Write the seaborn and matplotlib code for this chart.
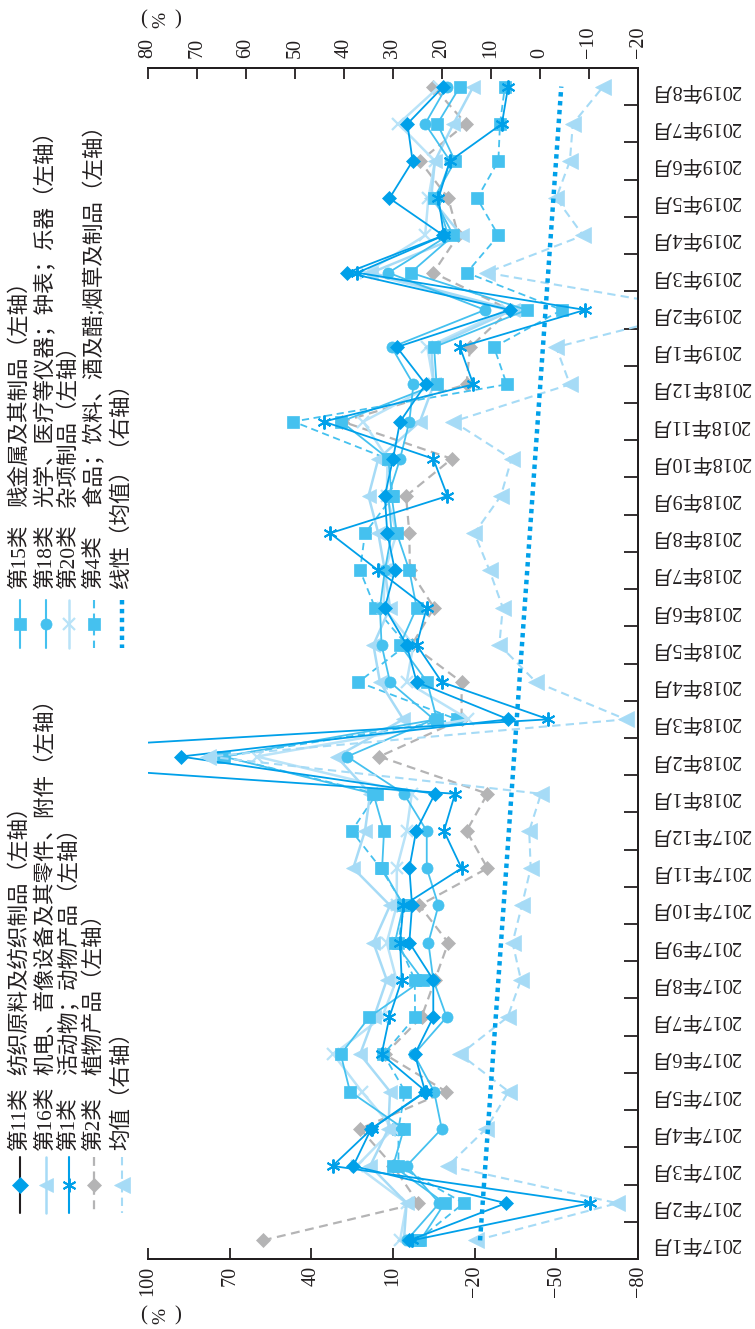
import numpy as np
import pandas as pd
import matplotlib
matplotlib.use("Agg")
import matplotlib.pyplot as plt
from matplotlib.lines import Line2D
import seaborn as sns

# ---- data -------------------------------------------------------------
months = [f"{y}年{m}月" for y in (2017, 2018, 2019) for m in range(1, 13)][:32]

# year-on-year growth by HS section (%), left axis
cls11 = [4, -31.5, 24.6, 18, -1.8, 2, -4.8, -4.8, 4, 3, 4, 1.5, -5.4, 88, -32.4, 1.3,
         5, 13, 9.3, 12.1, 13, 10, 7.4, -2, 8.6, -33, 26.8, -8.5, 11.3, 2.8, 4.7, -8.5]
cls16 = [6, 5, 18.4, 11.7, 11.1, 22.1, 17, 12.3, 17.2, 11.1, 24.6, 20.3, 18.4, 30.7, 6.2, 14.8,
         17.2, 11.1, 13, 15.4, 19, 15.4, 0.1, -5, -4, -34, 18, -15.2, -4, -5.4, -12.2, -19.5]
cls1 = [3, -62.4, 32.2, 17.8, -2.1, 14.2, 11.3, 6.8, 7.4, 6.2, -15.2, -8.7, -12.8, 188, -47.1, -7.9,
        1.3, -2.4, 15.4, 33.1, -10, -4.8, 35.4, -19.5, -14.6, -60.5, 23.1, -8.7, -6.7, -10.9, -30, -32.3]
cls2 = [57.8, 0.7, 10, 22.1, -9.5, 13, -0.5, -5.4, -10.3, 0.3, -24.7, -17, -24.7, 15, -15.2, -15.2,
        3.1, -5.1, 3.8, 4, 5.2, -11.6, 28.6, -17, -18.3, -33, -4.8, -14, -10.3, 0.1, -16.8, -4.8]
cls15 = [0, -9, 10, 6, 25.8, 29.2, 18.7, -0.9, 9.3, 6.2, 14, 13.3, 17.2, 72.3, -6.1, -2.6,
         7.4, 1.3, 4, 8.6, 10.5, 11.7, 29, -6, -5.1, -39.1, 3.5, -12.2, -5, -12.8, -6.3, -14.6]
cls18 = [5, -7, 5, -7.9, -5.1, 2.3, -9.7, -4.8, -3, -6.7, -2.4, -2.4, 6, 26.8, -5, 11.1,
         14.2, 14.8, 13, 10.5, 11.7, 7.4, 4, 2.5, 10.5, -23.8, 11.7, -10.3, -6, -11, -1.8, -9.7]
cls20 = [7.4, 5, 23.3, 9.9, 21.5, 31.9, 14, 8.7, 12.3, 8.6, 8.6, 5, 3.1, 60, -17.7, 5,
         2.5, 13.5, 13, 8.6, 12.3, 12, 20.9, -5, -2.6, -31.8, 20, -1.8, -3, -5.4, 8, -7]
cls4 = [1, -16, 8, 8, 5.6, 13.5, 1.9, 2, 8, 6, 14.5, 25.2, 16, 72, -13.4, 22.7,
        5, 16.6, 22.1, 20.3, 10, 12, 46.6, -31.8, -27.1, -52, -17.1, -28.7, -20.9, -28.7, -29.3, -31.1]
# mean of all sections (%), right axis
avg = [13.1, -15.8, 18.8, 11, 6.4, 16.3, 6.6, 3.9, 5.6, 3.7, 1.9, 2.2, -0.2, 67.7, -17.5, 0.8,
       8.3, 7.6, 10.3, 13.4, 8, 5.8, 17.7, -6.1, -3.3, -33, 10.9, -8.8, -3.3, -6.1, -6.7, -12.9]

left_ticks = [100, 70, 40, 10, -20, -50, -80]
right_ticks = [80, 70, 60, 50, 40, 30, 20, 10, 0, -10, -20]

legend_col1 = [("第11类", "纺织原料及纺织制品（左轴）"),
               ("第16类", "机电、音像设备及其零件、附件（左轴）"),
               ("第1类", "活动物；动物产品（左轴）"),
               ("第2类", "植物产品（左轴）"),
               ("均值（右轴）", None)]
legend_col2 = [("第15类", "贱金属及其制品（左轴）"),
               ("第18类", "光学、医疗等仪器；钟表；乐器（左轴）"),
               ("第20类", "杂项制品（左轴）"),
               ("第4类", "食品；饮料、酒及醋;烟草及制品（左轴）"),
               ("线性（均值）（右轴）", None)]

# ---- style ------------------------------------------------------------
sns.set_theme(style="white")
plt.rcParams["font.family"] = ["Liberation Serif", "Noto Sans CJK SC"]
plt.rcParams["axes.unicode_minus"] = True

BLUE = "#00a0e9"
MID = "#45c1ef"
LIGHT = "#a6dbf6"
PALE = "#b9e3f8"
GRAY = "#b4b4b5"
INK = "#231f20"

W, H = 755, 1329
fig = plt.figure(figsize=(W / 100, H / 100), dpi=100)
fig.patch.set_facecolor("white")


def fx(x):
    return x / W


def fy(y):
    return 1 - y / H


ax = fig.add_axes([fx(148), fy(1259), (638 - 148) / W, (1259 - 68) / H])
ax2 = ax.twiny()

idx = np.arange(len(months))

styles = {
    "cls11": dict(color=BLUE, marker="D", markersize=7, linestyle="-", linewidth=1.3),
    "cls16": dict(color=LIGHT, marker="<", markersize=10, linestyle="-", linewidth=1.8),
    "cls1": dict(color=BLUE, marker=(6, 2, 0), markersize=10, linestyle="-", linewidth=1.3,
                 markeredgewidth=1.4),
    "cls2": dict(color=GRAY, marker="D", markersize=7, linestyle=(0, (4, 2.5)), linewidth=1.6),
    "cls15": dict(color=MID, marker="s", markersize=9, linestyle="-", linewidth=1.3),
    "cls18": dict(color=MID, marker="o", markersize=8, linestyle="-", linewidth=1.3),
    "cls20": dict(color=PALE, marker="x", markersize=8, linestyle="-", linewidth=1.8,
                  markeredgewidth=1.6),
    "cls4": dict(color=MID, marker="s", markersize=9, linestyle=(0, (4, 2.5)), linewidth=1.3),
    "avg": dict(color=LIGHT, marker="<", markersize=11, linestyle=(0, (4, 2.5)), linewidth=1.5),
    "trend": dict(color=BLUE, linestyle=(0, (1, 1)), linewidth=3.2),
}


def draw(axis, values, key):
    st = dict(styles[key])
    mew = st.pop("markeredgewidth", 0.5)
    df = pd.DataFrame({"value": values, "month": idx})
    sns.lineplot(data=df, x="value", y="month", orient="y", ax=axis, errorbar=None,
                 markeredgecolor=st["color"], markeredgewidth=mew, **st)


draw(ax, cls2, "cls2")
draw(ax, cls4, "cls4")
draw(ax, cls20, "cls20")
draw(ax, cls16, "cls16")
draw(ax, cls18, "cls18")
draw(ax, cls15, "cls15")
draw(ax, cls1, "cls1")
draw(ax, cls11, "cls11")

# mean series and its linear trend on the secondary axis
draw(ax2, avg, "avg")
coef = np.polyfit(idx, avg, 1)
trend = np.polyval(coef, idx)
draw(ax2, trend, "trend")

# ---- axes -------------------------------------------------------------
ax.set_xlim(100, -80)
ax2.set_xlim(80, -20)
ax.set_ylim(-0.5, len(months) - 0.5)
for a in (ax, ax2):
    a.set_xlabel("")
    a.set_ylabel("")
    a.spines["left"].set_visible(False)
    for s in ("top", "bottom", "right"):
        a.spines[s].set_color(INK)
        a.spines[s].set_linewidth(1.4)

ax.set_xticks(left_ticks)
ax.tick_params(axis="x", which="major", direction="in", length=8, width=1.3, color=INK,
               bottom=True, top=False, labelbottom=True, labelrotation=90,
               labelsize=14.5, pad=5, labelcolor=INK)
ax2.set_xticks(right_ticks)
ax2.tick_params(axis="x", which="major", direction="in", length=8, width=1.3, color=INK,
                top=True, bottom=False, labeltop=True, labelbottom=False, labelrotation=90,
                labelsize=14.5, pad=7, labelcolor=INK)

ax.yaxis.tick_right()
ax.set_yticks(np.arange(0.5, len(months) - 1, 1))
ax.set_yticks(idx, months, minor=True)
ax.tick_params(axis="y", which="major", direction="in", length=10, width=1.3, color=INK,
               right=True, left=False, labelright=False, labelleft=False)
ax.tick_params(axis="y", which="minor", length=0, right=True, left=False,
               labelright=True, labelleft=False, labelrotation=180, labelsize=14.5,
               pad=9, labelcolor=INK)
ax.grid(False)
ax2.grid(False)

# unit marks for both value axes
for yc in (1316, 20):
    fig.text(fx(144), fy(yc), "(", fontsize=15, ha="center", va="center", color=INK)
    fig.text(fx(161), fy(yc), "%", fontsize=14, rotation=90, ha="center", va="center", color=INK)
    fig.text(fx(178), fy(yc), ")", fontsize=15, ha="center", va="center", color=INK)

# ---- legend (drawn in figure space, rotated) ----------------------------
leg_x = [20, 46, 69, 94, 122]
LEG_FS = 15.5
handles1 = [
    dict(color=INK, marker="D", mfc=BLUE, mec=BLUE, ms=8, ls="-", lw=1.5),
    dict(color=LIGHT, marker="<", mfc=LIGHT, mec=LIGHT, ms=10, ls="-", lw=1.8),
    dict(color=BLUE, marker=(6, 2, 0), mfc=BLUE, mec=BLUE, ms=10, ls="-", lw=1.5, mew=1.4),
    dict(color=GRAY, marker="D", mfc=GRAY, mec=GRAY, ms=7, ls=(0, (4, 2.5)), lw=1.6),
    dict(color=LIGHT, marker="<", mfc=LIGHT, mec=LIGHT, ms=11, ls=(0, (4, 2.5)), lw=1.5),
]
handles2 = [
    dict(color=MID, marker="s", mfc=MID, mec=MID, ms=9, ls="-", lw=1.5),
    dict(color=MID, marker="o", mfc=MID, mec=MID, ms=8, ls="-", lw=1.5),
    dict(color=PALE, marker="x", mfc=PALE, mec=PALE, ms=9, ls="-", lw=1.8, mew=1.6),
    dict(color=MID, marker="s", mfc=MID, mec=MID, ms=9, ls=(0, (4, 2.5)), lw=1.5),
    dict(color=BLUE, marker=None, ls=(0, (1, 1)), lw=3.2),
]


def legend_column(entries, handles, y_top, y_bot, y_label, y_desc):
    for x, (label, desc), h in zip(leg_x, entries, handles):
        h = dict(h)
        mew = h.pop("mew", 0.5)
        ymid = (y_top + y_bot) / 2
        line = Line2D([fx(x)] * 3, [fy(y_top), fy(ymid), fy(y_bot)],
                      transform=fig.transFigure, markevery=[1], markeredgewidth=mew, **h)
        fig.add_artist(line)
        fig.text(fx(x), fy(y_label), label, rotation=90, ha="center", va="bottom",
                 fontsize=LEG_FS, color=INK)
        if desc:
            fig.text(fx(x), fy(y_desc), desc, rotation=90, ha="center", va="bottom",
                     fontsize=LEG_FS, color=INK)


legend_column(legend_col1, handles1, 1157, 1213, 1150, 1075)
legend_column(legend_col2, handles2, 600, 648, 588, 507)

fig.savefig("out.png", dpi=100, facecolor="white")
